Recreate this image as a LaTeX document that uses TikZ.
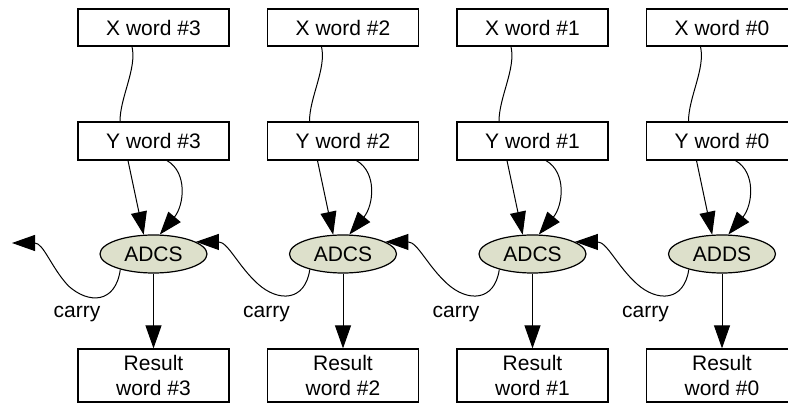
\documentclass[tikz,border=0pt]{standalone}
\usepackage{fontspec}
\setmainfont{Liberation Sans}
\usetikzlibrary{arrows.meta,calc,shapes.geometric}
\definecolor{ellfill}{RGB}{221,224,203}
\begin{document}
\begin{tikzpicture}[x=1pt,y=-1pt,
  font=\fontsize{21}{25}\selectfont,
  box/.style={draw, line width=1.2pt, minimum width=151pt, inner sep=0pt, align=center},
  op/.style={ellipse, draw, fill=ellfill, line width=1.2pt, minimum width=107pt, minimum height=38pt, inner sep=0pt},
  arr/.style={line width=1pt, -{Triangle[length=23pt,width=16pt]}},
  wire/.style={line width=1pt}]
\useasboundingbox (0,0) rectangle (788,403);
\foreach \i/\cx/\opname in {3/153.5/ADCS, 2/343/ADCS, 1/532.5/ADCS, 0/722/ADDS} {
  \node[box, minimum height=37pt] (x\i) at (\cx,27.5) {X word \#\i};
  \node[box, minimum height=38pt] (y\i) at (\cx,141) {Y word \#\i};
  \node[op] (e\i) at (\cx,254) {\opname};
  \node[box, minimum height=53pt] (r\i) at (\cx,375.5) {Result\\word \#\i};
  \node[anchor=base, inner sep=0pt] (c\i) at (\cx-76.5,318) {carry};
  \draw[wire] ($(x\i.south)+(-21.5,0)$) .. controls ($(x\i.south)+(-16.5,22)$) and ($(y\i.north)+(-33.5,-24)$) .. ($(y\i.north)+(-33.5,0)$);
  \draw[arr] ($(y\i.south)+(-25.5,0)$) -- (e\i.117);
  \draw[arr] ($(y\i.south)+(13.5,0)$) .. controls ($(y\i.south)+(34.5,12)$) and ($(y\i.south)+(30.5,45)$) .. (e\i.72);
  \draw[arr] (e\i.south) -- (r\i.north);
}
\coordinate (cout) at (12,243);
\foreach \i/\j in {0/1,1/2,2/3} {
  \draw[arr] (e\i.205) .. controls ($(e\i)+(-38,48)$) and ($(e\i)+(-65,48)$) .. ($(e\i)+(-85,30)$) .. controls ($(e\i)+(-105,12)$) and ($(e\i)+(-115,-12)$) .. (e\j.16);
}
\draw[arr] (e3.205) .. controls ($(e3)+(-38,50)$) and ($(e3)+(-65,50)$) .. ($(e3)+(-85,32)$) .. controls ($(e3)+(-102,14)$) and ($(e3)+(-110,-11)$) .. (cout);
\end{tikzpicture}
\end{document}
